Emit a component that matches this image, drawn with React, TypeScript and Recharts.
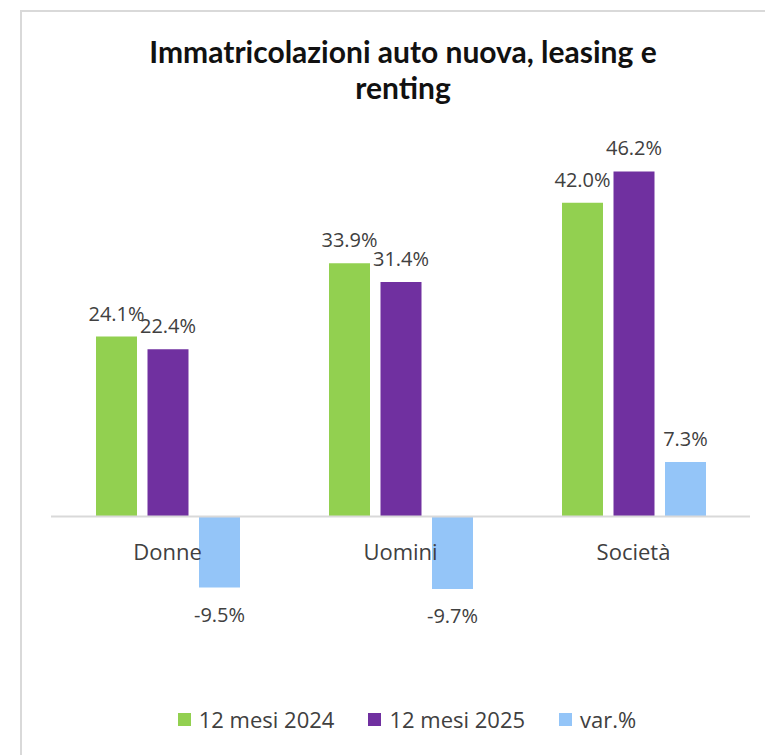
import React from "react";
import { BarChart, Bar, XAxis, YAxis, Legend, ReferenceLine, LabelList } from "recharts";

const categories = ["Donne", "Uomini", "Società"];
const mesi2024 = [24.1, 33.9, 42.0];
const mesi2025 = [22.4, 31.4, 46.2];
const varPct = [-9.5, -9.7, 7.3];

const seriesNames = ["12 mesi 2024", "12 mesi 2025", "var.%"];
const colors = ["#92D050", "#7030A0", "#94C5F8"];

const data = categories.map((name, i) => ({
  name,
  a: mesi2024[i],
  b: mesi2025[i],
  c: varPct[i],
}));

const TEXT = "#404040";
const FONT = "'Open Sans', 'Noto Sans', sans-serif";

// value labels: above positive bars, below negative ones
const renderValue = (props: any) => {
  const { x, y, width, height, value } = props;
  const top = Math.min(y, y + height);
  const bottom = Math.max(y, y + height);
  const cx = x + width / 2;
  const ty = value >= 0 ? top - 16 : bottom + 34;
  return (
    <text x={cx} y={ty} textAnchor="middle" fontSize={20} fill={TEXT} fontFamily={FONT}>
      {Number(value).toFixed(1) + "%"}
    </text>
  );
};

// category names sit just under the zero line, not at the plot bottom
const CategoryTick = (props: any) => {
  const { x, y, payload } = props;
  return (
    <text x={x} y={y - 106} textAnchor="middle" fontSize={22} fill={TEXT} fontFamily={FONT}>
      {payload.value}
    </text>
  );
};

const LegendContent = () => (
  <div
    style={{
      display: "flex",
      justifyContent: "center",
      alignItems: "center",
      gap: 34,
      paddingLeft: 13,
      paddingTop: 8,
      fontFamily: FONT,
      fontSize: 22,
      color: TEXT,
    }}
  >
    {seriesNames.map((n, i) => (
      <div key={n} style={{ display: "flex", alignItems: "center" }}>
        <span style={{ width: 13, height: 13, background: colors[i], marginRight: 8, display: "inline-block" }} />
        <span>{n}</span>
      </div>
    ))}
  </div>
);

export default function App() {
  return (
    <div style={{ position: "absolute", left: 0, top: 0, width: 765, height: 755, background: "#fff", overflow: "hidden" }}>
      <div
        style={{
          position: "absolute",
          left: 20,
          top: 10,
          width: 745,
          height: 745,
          borderLeft: "2px solid #d9d9d9",
          borderTop: "2px solid #d9d9d9",
        }}
      />
      <svg width={765} height={120} style={{ position: "absolute", left: 0, top: 0 }}>
        <text x={403} y={63} textAnchor="middle" fontSize={30} fontWeight={700} fill="#111" fontFamily="Lato, sans-serif">
          Immatricolazioni auto nuova, leasing e
        </text>
        <text x={403} y={99} textAnchor="middle" fontSize={30} fontWeight={700} fill="#111" fontFamily="Lato, sans-serif">
          renting
        </text>
      </svg>
      <div style={{ position: "absolute", left: 0, top: 0 }}>
        <BarChart
          width={765}
          height={755}
          data={data}
          margin={{ top: 143, right: 15, left: 51, bottom: 0 }}
          barSize={41}
          barGap={10.5}
        >
          <YAxis hide domain={[-20, 50]} type="number" />
          <ReferenceLine y={0} stroke="#d9d9d9" strokeWidth={2} />
          <Bar dataKey="a" name={seriesNames[0]} fill={colors[0]} isAnimationActive={false}>
            <LabelList dataKey="a" content={renderValue} />
          </Bar>
          <Bar dataKey="b" name={seriesNames[1]} fill={colors[1]} isAnimationActive={false}>
            <LabelList dataKey="b" content={renderValue} />
          </Bar>
          <Bar dataKey="c" name={seriesNames[2]} fill={colors[2]} isAnimationActive={false}>
            <LabelList dataKey="c" content={renderValue} />
          </Bar>
          <XAxis
            dataKey="name"
            axisLine={false}
            tickLine={false}
            tickSize={0}
            tickMargin={0}
            height={30}
            tick={<CategoryTick />}
          />
          <Legend verticalAlign="bottom" height={59} content={<LegendContent />} />
        </BarChart>
      </div>
    </div>
  );
}
